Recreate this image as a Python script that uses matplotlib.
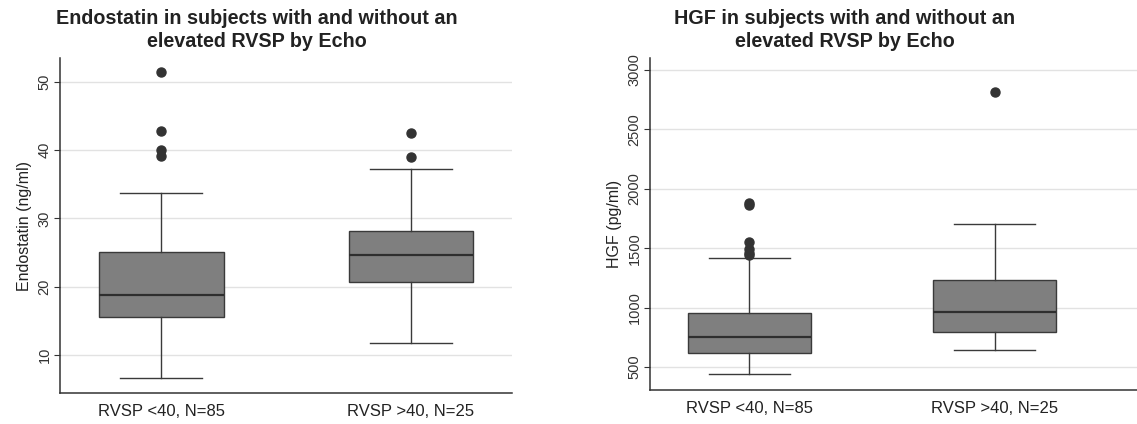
import matplotlib
matplotlib.use("Agg")
import matplotlib.pyplot as plt

plt.rcParams['font.family'] = ['Liberation Sans', 'DejaVu Sans']

groups = ['RVSP <40, N=85', 'RVSP >40, N=25']

# Endostatin (ng/ml): whisker low, Q1, median, Q3, whisker high, outliers
endo_whislo = [6.6, 11.7]
endo_q1 = [15.6, 20.6]
endo_med = [18.8, 24.7]
endo_q3 = [25.1, 28.2]
endo_whishi = [33.7, 37.2]
endo_fliers = [[51.5, 42.8, 40.0, 39.2], [42.5, 39.0]]

# HGF (pg/ml)
hgf_whislo = [441, 643]
hgf_q1 = [620, 798]
hgf_med = [755, 966]
hgf_q3 = [958, 1228]
hgf_whishi = [1416, 1702]
hgf_fliers = [[1880, 1865, 1550, 1490, 1460, 1445], [2812]]

endo_ticks = [10, 20, 30, 40, 50]
hgf_ticks = [500, 1000, 1500, 2000, 2500, 3000]


def make_stats(lo, q1, med, q3, hi, fl):
    stats = []
    for i in range(len(lo)):
        stats.append(dict(whislo=lo[i], q1=q1[i], med=med[i], q3=q3[i],
                          whishi=hi[i], fliers=fl[i], label=groups[i]))
    return stats


def draw(ax, stats, ticks, ylim, xlim, ylabel):
    edge = '#3a3a3a'
    ax.bxp(stats, positions=[1, 2], widths=0.5, patch_artist=True,
           boxprops=dict(facecolor='#7f7f7f', edgecolor=edge, linewidth=1),
           medianprops=dict(color='#2e2e2e', linewidth=1.6),
           whiskerprops=dict(color=edge, linewidth=1),
           capprops=dict(color=edge, linewidth=1),
           capwidths=0.33,
           flierprops=dict(marker='o', markerfacecolor='#333333',
                           markeredgecolor='#333333', markersize=6.5))
    ax.set_xlim(*xlim)
    ax.set_ylim(*ylim)
    ax.set_yticks(ticks)
    ax.set_yticklabels([str(t) for t in ticks], rotation=90, va='center',
                       fontsize=10.5, color='#333333')
    ax.tick_params(axis='x', length=0, labelsize=12, labelcolor='#222222', pad=8)
    ax.tick_params(axis='y', length=4, color='#333333', pad=2)
    ax.yaxis.grid(True, color='#e2e2e2', linewidth=1)
    ax.set_axisbelow(True)
    for s in ['top', 'right']:
        ax.spines[s].set_visible(False)
    for s in ['left', 'bottom']:
        ax.spines[s].set_color('#333333')
        ax.spines[s].set_linewidth(1.1)
    ax.set_ylabel(ylabel, fontsize=11.5, color='#222222', labelpad=4)


fig = plt.figure(figsize=(11.37, 4.24), dpi=100)

ax1 = fig.add_axes([0.0528, 0.0731, 0.3975, 0.790])
draw(ax1, make_stats(endo_whislo, endo_q1, endo_med, endo_q3, endo_whishi, endo_fliers),
     endo_ticks, (4.4, 53.5), (0.596, 2.404), 'Endostatin (ng/ml)')

ax2 = fig.add_axes([0.5717, 0.0802, 0.4283, 0.783])
draw(ax2, make_stats(hgf_whislo, hgf_q1, hgf_med, hgf_q3, hgf_whishi, hgf_fliers),
     hgf_ticks, (306, 3101), (0.596, 2.58), 'HGF (pg/ml)')

fig.text(257 / 1137, 1 - 30 / 424,
         'Endostatin in subjects with and without an\nelevated RVSP by Echo',
         ha='center', va='center', fontsize=14.2, fontweight='bold',
         color='#222222', linespacing=1.32)
fig.text(845 / 1137, 1 - 30 / 424,
         'HGF in subjects with and without an\nelevated RVSP by Echo',
         ha='center', va='center', fontsize=14.2, fontweight='bold',
         color='#222222', linespacing=1.32)

fig.savefig('out.png', dpi=100)
